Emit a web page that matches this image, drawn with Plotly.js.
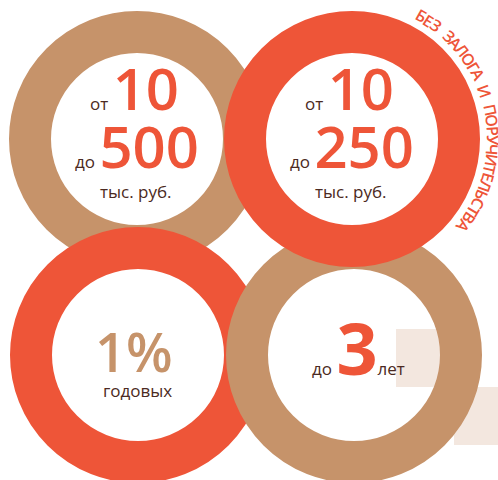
<!DOCTYPE html>
<html>
<head>
<meta charset="utf-8">
<script src="https://cdn.plot.ly/plotly-3.0.1.min.js"></script>
<style>html,body{margin:0;padding:0;background:#fff;}#chart{width:498px;height:480px;}</style>
</head>
<body>
<div id="chart"></div>
<script>
// ---- content ----
const amountFrom = ['10', '10'];          // от ... (тыс. руб.)
const amountTo = ['500', '250'];          // до ... (тыс. руб.)
const amountUnit = 'тыс. руб.';
const ratePercent = '1%';
const rateUnit = 'годовых';
const termYears = '3';
const termUnit = 'лет';
const arcText = 'БЕЗ ЗАЛОГА И ПОРУЧИТЕЛЬСТВА';
const wordFrom = 'от';
const wordTo = 'до';

// ---- styles ----
const RED = '#EE5538';
const TAN = '#C6936A';
const DARK = '#4B2A22';
const BEIGE = '#F3E7DF';
const FONT = 'Open Sans, Noto Sans, DejaVu Sans, sans-serif';

// ring geometry in pixel-like axis units
const rings = [
  {cx: 137, cy: 139, color: TAN},
  {cx: 138, cy: 355, color: RED},
  {cx: 354, cy: 355, color: TAN},
  {cx: 352, cy: 139, color: RED}
];
const ringMid = 107, ringWidth = 42;

const shapes = [
  {type: 'rect', xref: 'x', yref: 'y', x0: 396, x1: 454, y0: 329, y1: 387, fillcolor: BEIGE, line: {width: 0}, layer: 'above'},
  {type: 'rect', xref: 'x', yref: 'y', x0: 454, x1: 498, y0: 387, y1: 445, fillcolor: BEIGE, line: {width: 0}, layer: 'above'}
];
rings.forEach(r => shapes.push({
  type: 'circle', xref: 'x', yref: 'y', layer: 'above',
  x0: r.cx - ringMid, x1: r.cx + ringMid, y0: r.cy - ringMid, y1: r.cy + ringMid,
  line: {color: r.color, width: ringWidth}, fillcolor: 'rgba(0,0,0,0)'
}));

function small(t, extra) {
  return '<span style="font-size:17px;font-weight:400;fill:' + DARK + ';color:' + DARK + '">' + t + (extra || '') + '</span>';
}

const ann = [];
function A(x, y, text, size, color, weight, extra) {
  ann.push(Object.assign({
    x: x, y: y, xref: 'x', yref: 'y', text: text, showarrow: false,
    xanchor: 'center', yanchor: 'middle', borderpad: 0,
    font: {family: FONT, size: size, color: color, weight: weight}
  }, extra || {}));
}

// top circles: amounts
const topCenters = [137, 352];
for (let i = 0; i < 2; i++) {
  const cx = topCenters[i];
  A(cx - 3, 87, small(wordFrom, ' ') + amountFrom[i], 58, RED, 600);
  A(cx, 145, small(wordTo, ' ') + amountTo[i], 58, RED, 600);
  A(cx - 1, 191, amountUnit, 17, DARK, 400);
}
// bottom-left: rate
A(134, 351, ratePercent, 54, TAN, 600);
A(137, 390, rateUnit, 17, DARK, 400);
// bottom-right: term
A(358, 347, small(wordTo, ' ') + termYears + small(termUnit), 72, RED, 700);

// curved text around the top-right ring (letters spaced by their measured widths)
(function () {
  const cx = 352, cy = 139, rad = 141, fs = 16;
  const a0 = 29.5, a1 = 128;
  const ctx = document.createElement('canvas').getContext('2d');
  ctx.font = '600 ' + fs + 'px "Open Sans"';
  const chars = Array.from(arcText);
  const w = chars.map(c => ctx.measureText(c === ' ' ? 'И' : c).width * (c === ' ' ? 0.75 : 1));
  const pos = [];
  let acc = 0;
  for (let i = 0; i < chars.length; i++) { pos.push(acc + w[i] / 2); acc += w[i]; }
  const first = pos[0], last = pos[pos.length - 1];
  chars.forEach((c, i) => {
    if (c === ' ') return;
    const th = a0 + (pos[i] - first) / (last - first) * (a1 - a0);
    const rr = th * Math.PI / 180;
    A(cx + rad * Math.sin(rr), cy - rad * Math.cos(rr), c, fs, RED, 600, {textangle: th});
  });
})();

const layout = {
  width: 498, height: 480,
  margin: {l: 0, r: 0, t: 0, b: 0, pad: 0},
  paper_bgcolor: '#fff', plot_bgcolor: '#fff',
  showlegend: false,
  xaxis: {range: [0, 498], visible: false, fixedrange: true},
  yaxis: {range: [480, 0], visible: false, fixedrange: true},
  shapes: shapes,
  annotations: ann
};

Plotly.newPlot('chart', [{x: [], y: [], type: 'scatter', hoverinfo: 'skip'}], layout, {displayModeBar: false, staticPlot: true});
</script>
</body>
</html>
